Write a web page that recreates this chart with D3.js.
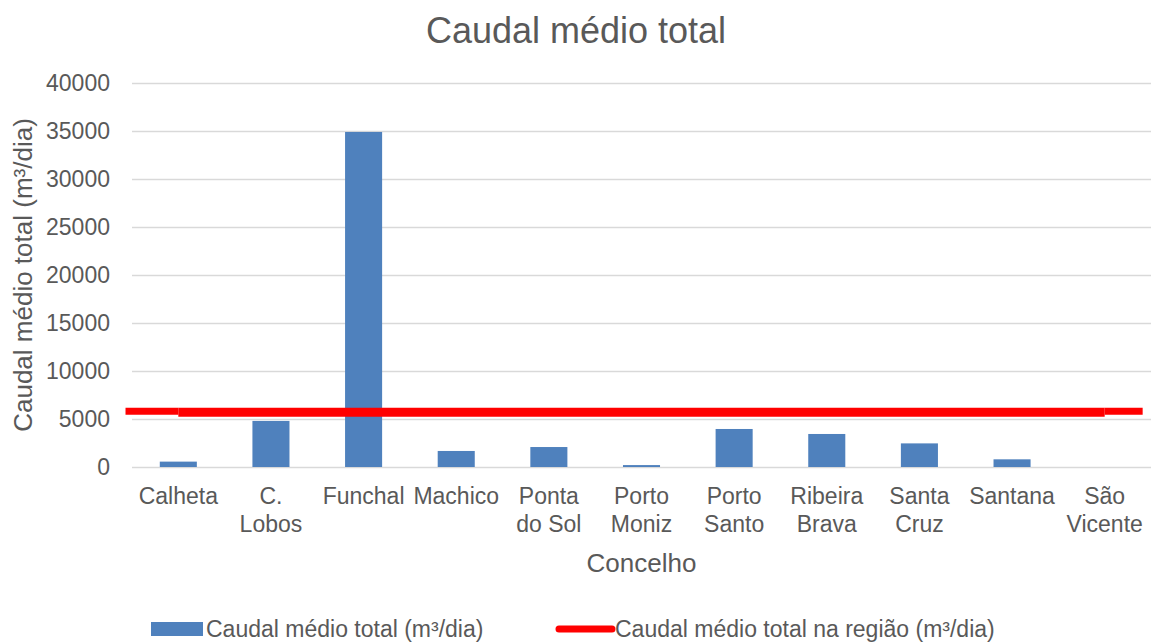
<!DOCTYPE html>
<html>
<head>
<meta charset="utf-8">
<script src="https://cdn.jsdelivr.net/npm/d3@7"></script>
<style>
  body { margin: 0; background: #fff; }
  svg text { font-family: "Liberation Sans", Arial, sans-serif; fill: #595959; }
</style>
</head>
<body>
<div id="chart"></div>
<script>
// Data
const categories = ["Calheta", "C. Lobos", "Funchal", "Machico", "Ponta do Sol", "Porto Moniz",
    "Porto Santo", "Ribeira Brava", "Santa Cruz", "Santana", "São Vicente"];
const tickLines = [["Calheta"], ["C.", "Lobos"], ["Funchal"], ["Machico"], ["Ponta", "do Sol"],
    ["Porto", "Moniz"], ["Porto", "Santo"], ["Ribeira", "Brava"], ["Santa", "Cruz"], ["Santana"], ["São", "Vicente"]];
const caudal = [560, 4800, 34900, 1670, 2080, 200, 3960, 3440, 2460, 800, 0];
const caudalRegiao = [5700, 5700, 5700, 5700, 5700, 5700, 5700, 5700, 5700, 5700, 5700];
const yTicks = [0, 5000, 10000, 15000, 20000, 25000, 30000, 35000, 40000];

const W = 1152, H = 642;
const margin = { top: 83, right: 1, bottom: 175, left: 132 };
const width = W - margin.left - margin.right;
const height = H - margin.top - margin.bottom;

const svg = d3.select("#chart")
    .append("svg")
    .attr("width", W)
    .attr("height", H);

const g = svg.append("g")
    .attr("transform", `translate(${margin.left},${margin.top})`);

const x = d3.scaleBand()
    .domain(categories)
    .range([0, width])
    .paddingInner(0.6)
    .paddingOuter(0.3);

const y = d3.scaleLinear()
    .domain([0, 40000])
    .range([height, 0]);

// gridlines + y labels
const yAxis = g.append("g")
    .call(d3.axisLeft(y).tickValues(yTicks).tickSize(-width).tickPadding(22).tickFormat(d3.format("d")));
yAxis.select(".domain").remove();
yAxis.selectAll(".tick line").attr("stroke", "#d9d9d9").attr("stroke-width", 1.3);
yAxis.selectAll(".tick text").style("font-size", "23px").attr("fill", "#595959");

// bars
g.selectAll(".bar")
    .data(caudal)
    .enter().append("rect")
    .attr("class", "bar")
    .attr("x", (d, i) => x(categories[i]))
    .attr("y", d => y(d))
    .attr("width", x.bandwidth())
    .attr("height", d => height - y(d))
    .attr("fill", "#4f81bd");

// region average line
const cx = i => x(categories[i]) + x.bandwidth() / 2;
const step = x.step();
const last = categories.length - 1;
g.append("line")
    .attr("x1", cx(0) - step * 0.57).attr("x2", cx(0))
    .attr("y1", y(caudalRegiao[0]) - 1).attr("y2", y(caudalRegiao[0]) - 1)
    .attr("stroke", "#ff0000").attr("stroke-width", 7);
g.append("line")
    .attr("x1", cx(last)).attr("x2", cx(last) + step * 0.41)
    .attr("y1", y(caudalRegiao[last]) - 1).attr("y2", y(caudalRegiao[last]) - 1)
    .attr("stroke", "#ff0000").attr("stroke-width", 7);
g.append("path")
    .datum(caudalRegiao)
    .attr("fill", "none")
    .attr("stroke", "#ff0000")
    .attr("stroke-width", 9)
    .attr("d", d3.line().x((d, i) => cx(i)).y(d => y(d)));

// x labels
const xl = g.append("g").attr("transform", `translate(0,${height})`);
categories.forEach((c, i) => {
    const t = xl.append("text")
        .attr("text-anchor", "middle")
        .attr("x", cx(i))
        .attr("y", 37)
        .style("font-size", "23px");
    tickLines[i].forEach((ln, j) => {
        t.append("tspan").attr("x", cx(i)).attr("dy", j ? 28 : 0).text(ln);
    });
});

// titles
svg.append("text")
    .attr("x", W / 2).attr("y", 43)
    .attr("text-anchor", "middle")
    .style("font-size", "36px")
    .text("Caudal médio total");

svg.append("text")
    .attr("x", margin.left + width / 2).attr("y", 572)
    .attr("text-anchor", "middle")
    .style("font-size", "26px")
    .text("Concelho");

svg.append("text")
    .attr("transform", `translate(32,${margin.top + height / 2}) rotate(-90)`)
    .attr("text-anchor", "middle")
    .style("font-size", "26px")
    .text("Caudal médio total (m³/dia)");

// legend
const lg = svg.append("g").attr("transform", "translate(0,629)");
lg.append("rect").attr("x", 151).attr("y", -7).attr("width", 52).attr("height", 14).attr("fill", "#4f81bd");
lg.append("text").attr("x", 206).attr("y", 8).style("font-size", "23px").text("Caudal médio total (m³/dia)");
lg.append("line").attr("x1", 559).attr("x2", 612).attr("y1", 0).attr("y2", 0)
    .attr("stroke", "#ff0000").attr("stroke-width", 7).attr("stroke-linecap", "round");
lg.append("text").attr("x", 615).attr("y", 8).style("font-size", "23px").text("Caudal médio total na região (m³/dia)");
</script>
</body>
</html>
